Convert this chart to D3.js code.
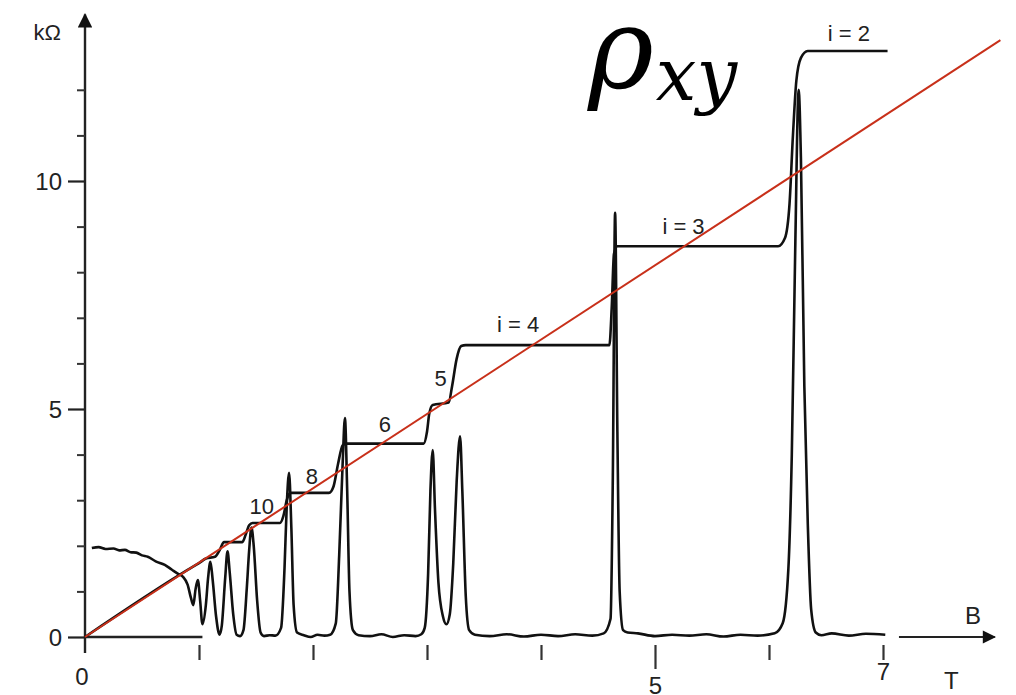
<!DOCTYPE html>
<html>
<head>
<meta charset="utf-8">
<script src="https://cdn.jsdelivr.net/npm/d3@7"></script>
<style>
  body { margin: 0; background: #fff; }
  svg { display: block; }
  .lbl { font-family: "Liberation Sans", Arial, sans-serif; fill: #222; }
</style>
</head>
<body>
<div class="chart"></div>
<script>
// magnetic field B (T) and Hall resistance rho_xy (kOhm)
var hallB = [0, 0.9, 1.0, 1.06, 1.14, 1.18, 1.22, 1.38, 1.41, 1.44, 1.47, 1.71, 1.74, 1.77, 1.80,
    2.14, 2.18, 2.22, 2.26, 2.29, 2.97, 3.0, 3.02, 3.05, 3.19, 3.22, 3.26, 3.30, 3.34,
    4.60, 4.62, 4.64, 4.67, 6.08, 6.14, 6.18, 6.21, 6.24, 6.28, 6.34, 7.04];
var hallR = [0, 1.47, 1.62, 1.72, 1.76, 1.9, 2.08, 2.08, 2.25, 2.45, 2.5, 2.5, 2.65, 3.0, 3.16,
    3.16, 3.3, 3.8, 4.2, 4.24, 4.24, 4.5, 4.9, 5.09, 5.14, 5.5, 6.1, 6.38, 6.40,
    6.40, 7.2, 8.4, 8.57, 8.57, 8.75, 9.5, 11.0, 12.2, 12.7, 12.85, 12.85];

// longitudinal resistance rho_xx (kOhm)
var rxxB = [0.06, 0.12, 0.18, 0.25, 0.30, 0.35, 0.40, 0.45, 0.50, 0.55, 0.62, 0.70, 0.76, 0.82, 0.86,
    0.90, 0.93, 0.95, 0.97,
    0.99, 1.01, 1.03, 1.06, 1.08, 1.10, 1.12, 1.15, 1.18, 1.20, 1.23, 1.25, 1.27, 1.30, 1.33,
    1.36, 1.39, 1.42, 1.44, 1.46, 1.48, 1.51, 1.54, 1.57, 1.62, 1.67, 1.72, 1.75, 1.77, 1.79,
    1.81, 1.83, 1.86, 1.92, 1.98, 2.04, 2.10, 2.15, 2.20, 2.23, 2.26, 2.28, 2.30, 2.32, 2.35,
    2.40, 2.50, 2.60, 2.70, 2.80, 2.90, 2.95, 2.98, 3.01, 3.03, 3.05, 3.07, 3.10, 3.14, 3.17,
    3.20, 3.23, 3.26, 3.29, 3.31, 3.34, 3.37, 3.42, 3.55, 3.70, 3.85, 4.00, 4.15, 4.30, 4.45,
    4.55, 4.61, 4.63, 4.65, 4.67, 4.69, 4.72, 4.76, 4.85, 5.00, 5.15, 5.30, 5.45, 5.60, 5.75,
    5.90, 6.05, 6.12, 6.17, 6.20, 6.23, 6.26, 6.28, 6.31, 6.34, 6.37, 6.41, 6.46, 6.55, 6.70,
    6.85, 7.02];
var rxxR = [1.95, 1.97, 1.93, 1.94, 1.90, 1.91, 1.86, 1.85, 1.79, 1.76, 1.66, 1.58, 1.48, 1.38, 1.32,
    1.15, 0.85, 0.70, 1.05,
    1.25, 0.80, 0.28, 0.70, 1.30, 1.65, 1.25, 0.45, 0.05, 0.25, 1.30, 1.88, 1.40, 0.50, 0.05,
    0.02, 0.15, 1.10, 1.90, 2.40, 2.00, 0.80, 0.10, 0.02, 0.04, 0.03, 0.20, 1.50, 2.90, 3.60,
    2.40, 0.70, 0.10, 0.04, 0.00, 0.05, 0.03, 0.05, 0.30, 1.80, 3.80, 4.80, 3.20, 1.00, 0.15,
    0.04, 0.02, 0.06, 0.00, 0.04, 0.02, 0.06, 0.20, 1.40, 3.20, 4.10, 2.80, 1.20, 0.45, 0.28,
    0.50, 1.60, 3.40, 4.40, 3.20, 0.90, 0.15, 0.05, 0.02, 0.06, 0.01, 0.05, 0.02, 0.06, 0.03,
    0.08, 0.40, 3.50, 9.30, 4.50, 1.00, 0.15, 0.10, 0.08, 0.02, 0.05, 0.03, 0.06, 0.01, 0.05,
    0.03, 0.08, 0.30, 1.50, 4.00, 8.50, 12.0, 10.5, 5.50, 2.50, 0.60, 0.10, 0.04, 0.08, 0.03,
    0.07, 0.05];

// classical Hall line (red)
var classicB = [0, 8.03];
var classicR = [0, 13.09];

// plateau labels
var plateauText = ['i = 2', 'i = 3', 'i = 4', '5', '6', '8', '10'];
var plateauB = [6.70, 5.25, 3.80, 3.12, 2.63, 1.99, 1.55];
var plateauR = [13.08, 8.84, 6.69, 5.5, 4.5, 3.36, 2.7];

var yTicksMinor = [1, 2, 3, 4, 6, 7, 8, 9, 11, 12];
var yTicksMajor = [0, 5, 10];
var xTicks = [1, 2, 3, 4, 5, 6, 7];

var W = 1016, H = 695;

var svg = d3.select('.chart').append('svg')
    .attr('width', W)
    .attr('height', H);

var x = d3.scaleLinear().domain([0, 7]).range([85, 883]);
var y = d3.scaleLinear().domain([0, 13]).range([637, 44.2]);

function pairs(a, b) {
    return a.map(function (v, i) { return [v, b[i]]; });
}

var line = d3.line()
    .x(function (d) { return x(d[0]); })
    .y(function (d) { return y(d[1]); })
    .curve(d3.curveMonotoneX);

// arrowheads
svg.append('defs').append('marker')
    .attr('id', 'arr')
    .attr('viewBox', '0 0 10 10')
    .attr('refX', 9).attr('refY', 5)
    .attr('markerWidth', 9).attr('markerHeight', 6)
    .attr('markerUnits', 'strokeWidth')
    .attr('orient', 'auto')
  .append('path')
    .attr('d', 'M0,0 L10,5 L0,10 Z')
    .attr('fill', '#111');

// y axis line with arrow
svg.append('line')
    .attr('x1', x(0)).attr('x2', x(0))
    .attr('y1', y(-0.35)).attr('y2', y(13.65))
    .attr('stroke', '#222').attr('stroke-width', 2.4)
    .attr('marker-end', 'url(#arr)');

// minor and major y ticks
svg.append('g')
    .attr('transform', 'translate(' + x(0) + ',0)')
    .call(d3.axisLeft(y).tickValues(yTicksMinor).tickSize(8).tickFormat(''))
    .call(function (g) { g.select('.domain').remove(); })
    .selectAll('line').attr('stroke', '#333').attr('stroke-width', 2);

var yMaj = svg.append('g')
    .attr('transform', 'translate(' + x(0) + ',0)')
    .call(d3.axisLeft(y).tickValues(yTicksMajor).tickSize(17).tickPadding(6))
    .call(function (g) { g.select('.domain').remove(); });
yMaj.selectAll('line').attr('stroke', '#222').attr('stroke-width', 2.2);
yMaj.selectAll('text')
    .attr('class', 'lbl')
    .style('font-size', '24px')
    .attr('dy', '0.36em');

svg.append('text')
    .attr('class', 'lbl')
    .attr('x', x(0) - 24).attr('y', y(13.1))
    .attr('text-anchor', 'end')
    .style('font-size', '22px')
    .text('kΩ');

// x axis: short baseline stub, ticks below, arrow on the right
svg.append('line')
    .attr('x1', x(0)).attr('x2', x(1.03))
    .attr('y1', y(0)).attr('y2', y(0))
    .attr('stroke', '#222').attr('stroke-width', 2.4);

var xAx = svg.append('g')
    .attr('transform', 'translate(0,' + (y(0) + 8) + ')')
    .call(d3.axisBottom(x).tickValues(xTicks).tickSize(15).tickFormat(function (d) {
        return (d === 5 || d === 7) ? d : '';
    }))
    .call(function (g) { g.select('.domain').remove(); });
xAx.selectAll('line').attr('stroke', '#333').attr('stroke-width', 2.2);
xAx.selectAll('text').attr('class', 'lbl').style('font-size', '24px');
xAx.selectAll('.tick').filter(function (d) { return d === 5; })
    .call(function (t) {
        t.select('line').attr('y2', 24);
        t.select('text').attr('y', 32);
    });

svg.append('text')
    .attr('class', 'lbl')
    .attr('x', x(0) - 3).attr('y', y(0) + 48)
    .attr('text-anchor', 'middle')
    .style('font-size', '24px')
    .text('0');

svg.append('line')
    .attr('x1', x(7.14)).attr('x2', x(7.98))
    .attr('y1', y(0)).attr('y2', y(0))
    .attr('stroke', '#222').attr('stroke-width', 2.2)
    .attr('marker-end', 'url(#arr)');

svg.append('text')
    .attr('class', 'lbl')
    .attr('x', x(7.79)).attr('y', y(0) - 13)
    .attr('text-anchor', 'middle')
    .style('font-size', '24px')
    .text('B');

svg.append('text')
    .attr('class', 'lbl')
    .attr('x', x(7.6)).attr('y', y(0) + 52)
    .attr('text-anchor', 'middle')
    .style('font-size', '24px')
    .text('T');

// rho_xx trace
svg.append('path')
    .datum(pairs(rxxB, rxxR))
    .attr('d', line)
    .attr('fill', 'none')
    .attr('stroke', '#111')
    .attr('stroke-width', 2.6)
    .attr('stroke-linejoin', 'round');

// rho_xy trace
svg.append('path')
    .datum(pairs(hallB, hallR))
    .attr('d', line)
    .attr('fill', 'none')
    .attr('stroke', '#111')
    .attr('stroke-width', 2.6)
    .attr('stroke-linejoin', 'round');

// plateau labels
svg.selectAll('.plat')
    .data(plateauText)
    .enter().append('text')
    .attr('class', 'lbl plat')
    .attr('x', function (d, i) { return x(plateauB[i]); })
    .attr('y', function (d, i) { return y(plateauR[i]); })
    .attr('text-anchor', 'middle')
    .style('font-size', '22px')
    .text(function (d) { return d; });

// classical line
svg.append('path')
    .datum(pairs(classicB, classicR))
    .attr('d', d3.line().x(function (d) { return x(d[0]); }).y(function (d) { return y(d[1]); }))
    .attr('fill', 'none')
    .attr('stroke', '#c8301a')
    .attr('stroke-width', 2);

// rho_xy title
var title = svg.append('text')
    .attr('x', 588).attr('y', 88)
    .style('font-family', '"DejaVu Serif", "Liberation Serif", serif')
    .style('font-style', 'italic')
    .style('fill', '#000');
title.append('tspan').style('font-size', '112px').text('ρ');
title.append('tspan').attr('dy', 12).attr('dx', 2).style('font-size', '72px').text('xy');
</script>
</body>
</html>
